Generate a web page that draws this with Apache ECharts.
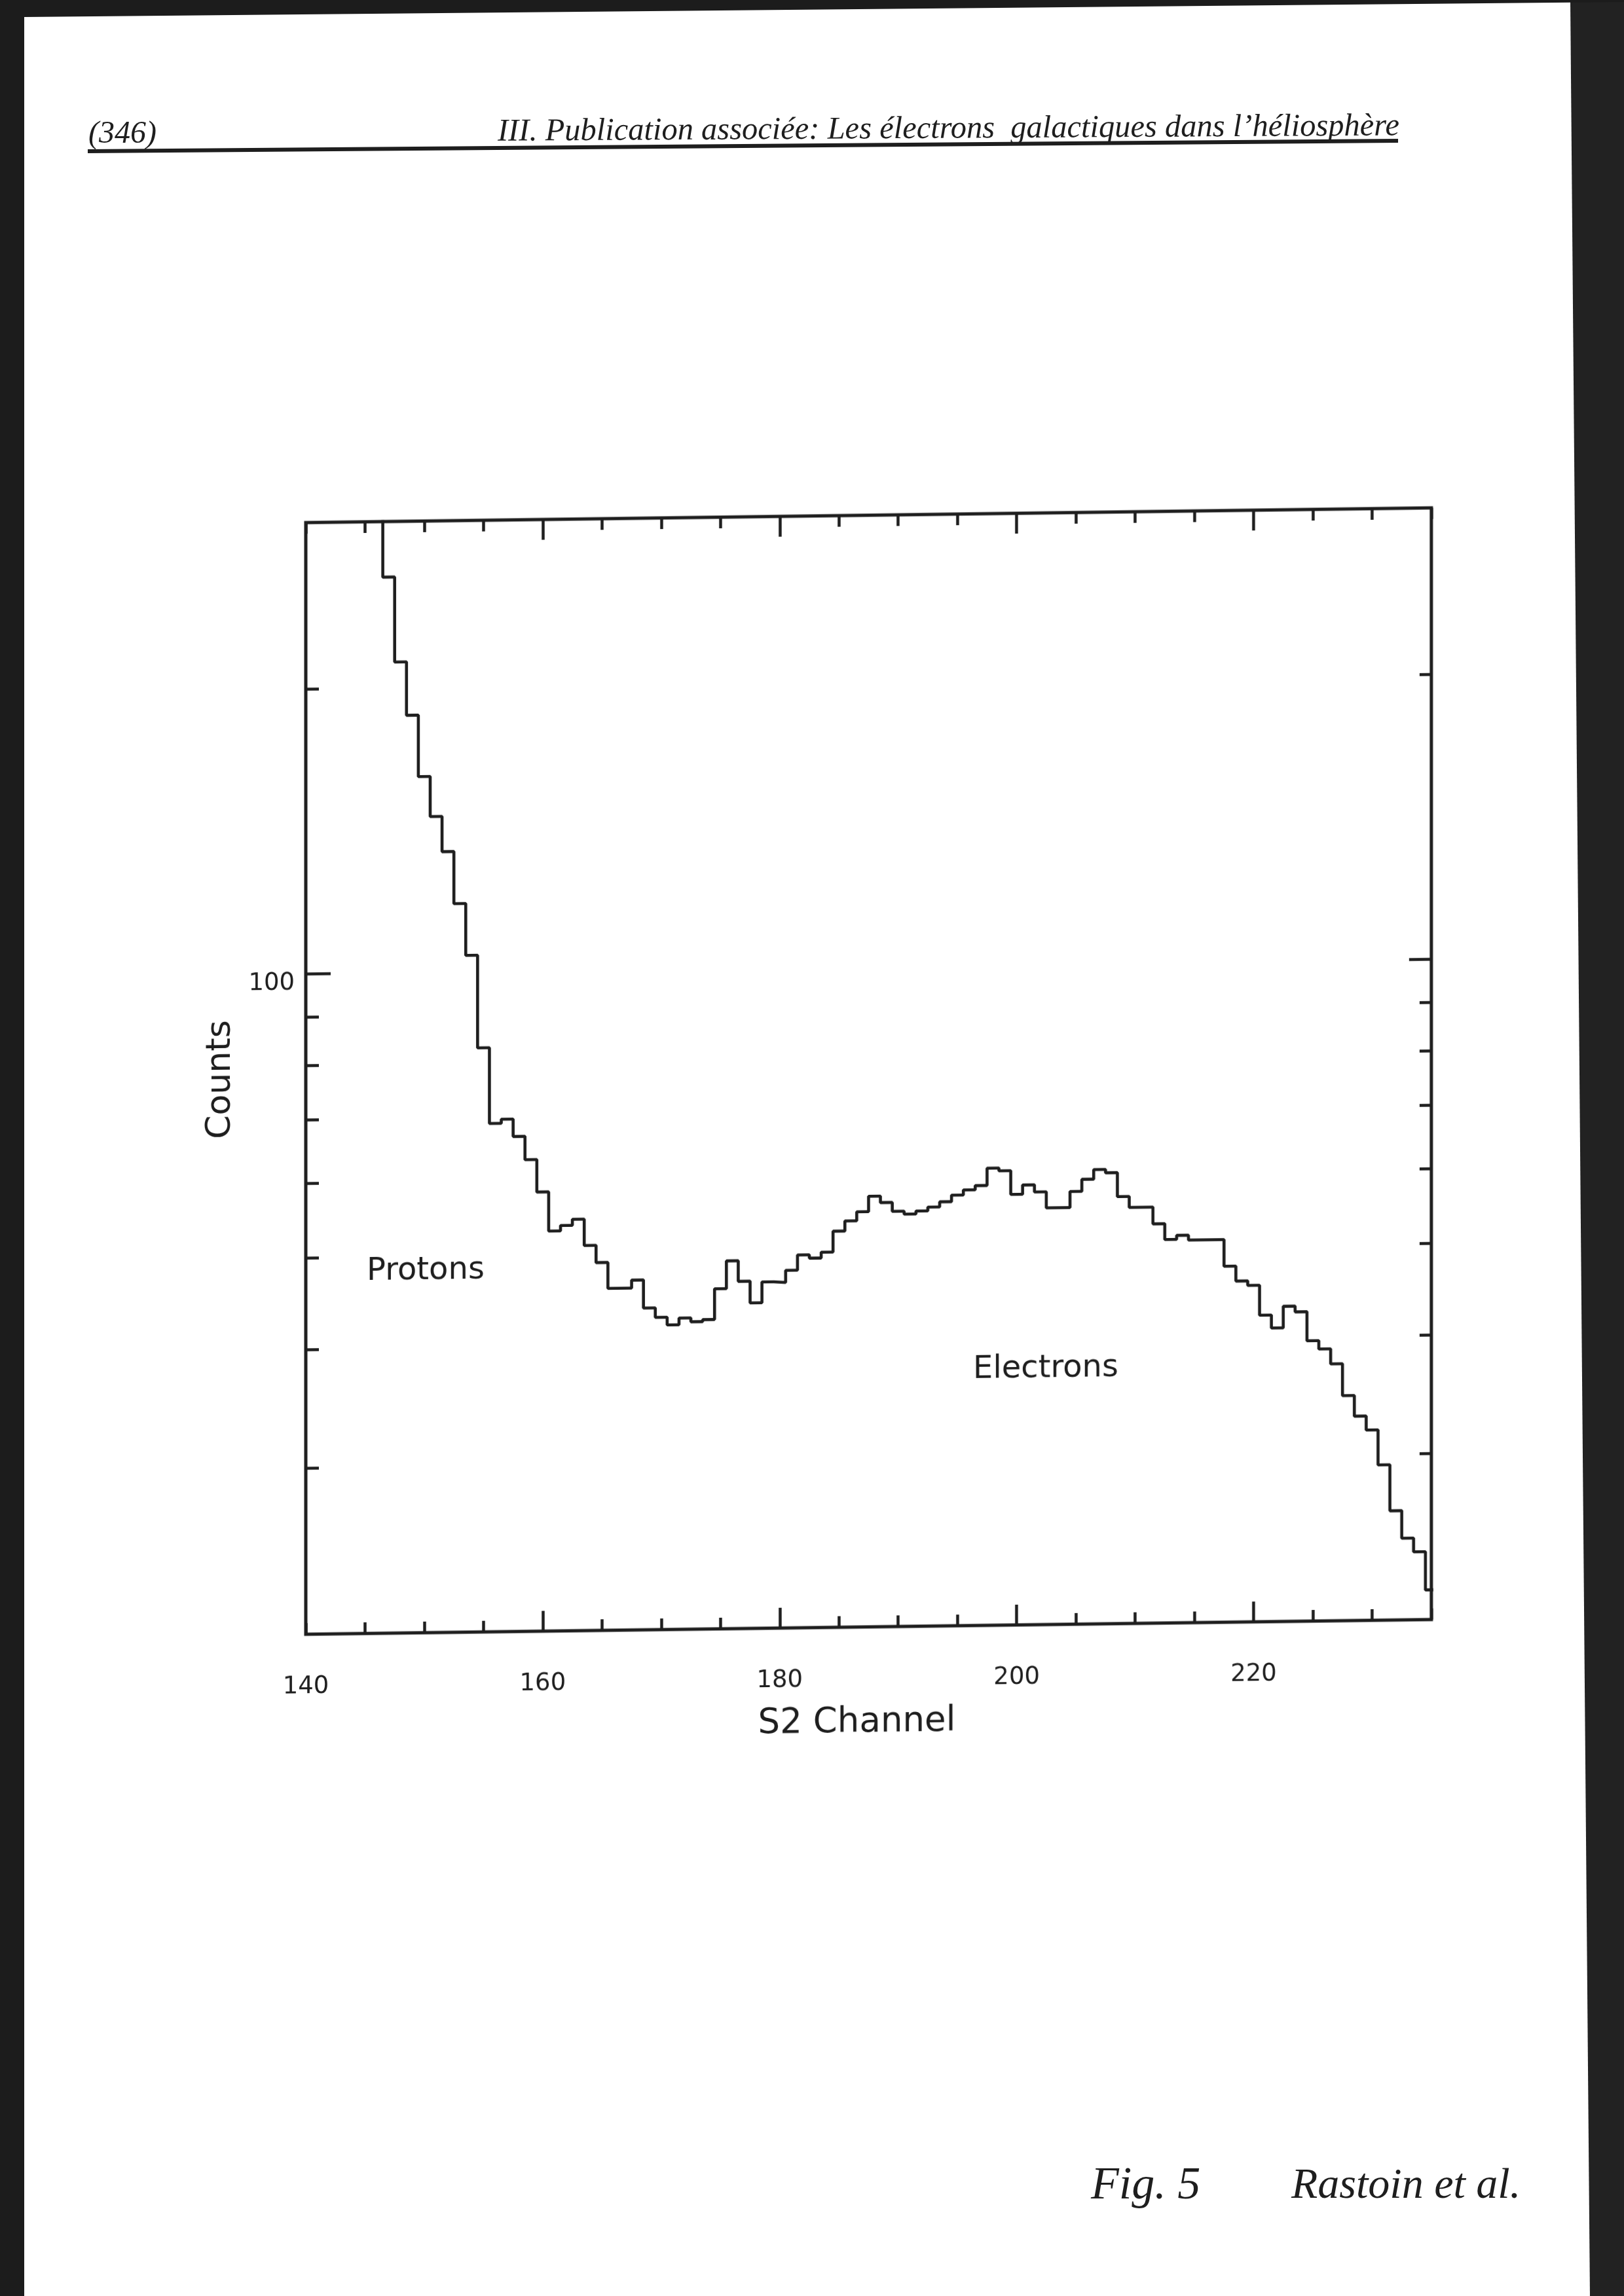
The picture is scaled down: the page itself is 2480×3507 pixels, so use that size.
<!DOCTYPE html>
<html>
<head>
<meta charset="utf-8">
<script src="https://cdn.jsdelivr.net/npm/echarts@6/dist/echarts.min.js"></script>
<style>
html,body{margin:0;padding:0;background:#ffffff;}
#page{position:absolute;left:0;top:0;width:2480px;height:3507px;}
#chart{position:absolute;left:0;top:0;width:2480px;height:3507px;transform:skewY(-0.75deg);transform-origin:1326px 1636px;}
</style>
</head>
<body>
<div id="page"></div>
<div id="chart"></div>
<script>
// ---- data ----
const channels = [146,147,148,149,150,151,152,153,154,155,156,157,158,159,160,161,162,163,164,165,
  166,167,168,169,170,171,172,173,174,175,176,177,178,179,180,181,182,183,184,185,
  186,187,188,189,190,191,192,193,194,195,196,197,198,199,200,201,202,203,204,205,
  206,207,208,209,210,211,212,213,214,215,216,217,218,219,220,221,222,223,224,225,
  226,227,228,229,230,231,232,233,234,235];
const counts = [330,262,213,187,161,146,134,118,104,83,69.0,69.7,66.8,63.1,58.3,53.0,53.7,54.5,51.1,49.0,
  46.0,46.0,46.9,43.8,42.8,42.0,42.7,42.3,42.5,45.8,49.0,46.6,44.2,46.5,46.4,47.8,49.6,49.2,49.9,52.5,
  53.8,55.0,57.1,56.2,55.0,54.6,55.0,55.5,56.2,57.1,57.8,58.4,60.9,60.5,57.1,58.4,57.4,55.2,55.2,57.4,
  59.1,60.5,60.0,56.6,55.1,55.1,52.9,50.9,51.4,50.8,50.8,50.8,47.6,45.9,45.4,42.2,40.9,43.1,42.5,39.6,
  38.8,37.4,34.6,32.9,31.8,29.2,26.1,24.4,23.6,21.5];
const xMin = 140, xMax = 235, xStep = 5;
const xMajorTicks = [160,180,200,220];
const xLabelValues = [140,160,180,200,220];
const yMin = 20, yMax = 300;
const yMinorTicks = [30,40,50,60,70,80,90,200];
const yMajorTicks = [100];
const yLabelValues = [100];

// ---- build histogram outline (bin edges at channel +/- 0.5) ----
const stepData = channels.map((c, i) => [c - 0.5, counts[i]]);
stepData.push([channels[channels.length - 1] + 0.5, counts[counts.length - 1]]);

const ink = '#1e1e1e';
const plotFont = 'DejaVu Sans';
const tickStyle = {color: ink, width: 4.5};

const baseX = {type: 'value', min: xMin, max: xMax, splitLine: {show: false}, axisLine: {show: false}};
const baseY = {type: 'log', logBase: 10, min: yMin, max: yMax, splitLine: {show: false}, axisLine: {show: false}};

// ---- page (scan borders, running head, handwritten caption) ----
const page = echarts.init(document.getElementById('page'), null, {renderer: 'canvas'});
page.setOption({
  backgroundColor: '#ffffff',
  animation: false,
  graphic: [
    {type: 'rect', shape: {x: 0, y: 0, width: 37, height: 3507}, style: {fill: '#1c1c1c'}, silent: true},
    {type: 'polygon', shape: {points: [[2398, 0], [2480, 0], [2480, 3507], [2428, 3507]]}, style: {fill: '#222222'}, silent: true},
    {type: 'polygon', shape: {points: [[0, 0], [2480, 0], [2480, 3], [37, 26], [0, 26]]}, style: {fill: '#1c1c1c'}, silent: true},
    {type: 'text', x: 135, y: 229, style: {text: '(346)', font: 'italic 48px "Liberation Serif"', fill: ink, textVerticalAlign: 'bottom'}, silent: true},
    {type: 'text', x: 760, y: 226, rotation: 0.006, style: {text: 'III. Publication associée: Les électrons  galactiques dans l\u2019héliosphère', font: 'italic 48.5px "Liberation Serif"', fill: ink, textVerticalAlign: 'bottom'}, silent: true},
    {type: 'line', shape: {x1: 134, y1: 231, x2: 2135, y2: 215}, style: {stroke: ink, lineWidth: 6}, silent: true},
    {type: 'text', x: 1666, y: 3340, style: {text: 'Fig. 5', font: 'italic 70px "Liberation Serif"', fill: ink, textVerticalAlign: 'middle'}, silent: true},
    {type: 'text', x: 1972, y: 3340, style: {text: 'Rastoin et al.', font: 'italic 66px "Liberation Serif"', fill: ink, textVerticalAlign: 'middle'}, silent: true}
  ]
});

// ---- the histogram ----
const chart = echarts.init(document.getElementById('chart'), null, {renderer: 'canvas'});
chart.setOption({
  backgroundColor: 'transparent',
  animation: false,
  grid: {left: 467, top: 787, width: 1719, height: 1698, show: true, borderColor: ink, borderWidth: 5, backgroundColor: 'transparent'},
  xAxis: [
    Object.assign({}, baseX, {position: 'bottom', interval: xStep,
      axisTick: {inside: true, length: 17, lineStyle: tickStyle}, axisLabel: {show: false}}),
    Object.assign({}, baseX, {position: 'bottom',
      axisTick: {inside: true, length: 31, customValues: xMajorTicks, lineStyle: tickStyle},
      axisLabel: {customValues: xLabelValues, margin: 62, fontSize: 37, fontFamily: plotFont, color: ink},
      name: 'S2 Channel', nameLocation: 'middle', nameGap: 120,
      nameTextStyle: {fontSize: 53, fontFamily: plotFont, color: ink, padding: [0, 36, 0, 0]}}),
    Object.assign({}, baseX, {position: 'top', interval: xStep,
      axisTick: {inside: true, length: 17, lineStyle: tickStyle}, axisLabel: {show: false}}),
    Object.assign({}, baseX, {position: 'top',
      axisTick: {inside: true, length: 31, customValues: xMajorTicks, lineStyle: tickStyle}, axisLabel: {show: false}})
  ],
  yAxis: [
    Object.assign({}, baseY, {position: 'left',
      axisTick: {inside: true, length: 20, customValues: yMinorTicks, lineStyle: tickStyle}, axisLabel: {show: false},
      name: 'Counts', nameLocation: 'middle', nameGap: 104, nameRotate: 90,
      nameTextStyle: {fontSize: 52, fontFamily: plotFont, color: ink}}),
    Object.assign({}, baseY, {position: 'left',
      axisTick: {inside: true, length: 38, customValues: yMajorTicks, lineStyle: tickStyle},
      axisLabel: {customValues: yLabelValues, margin: 17, fontSize: 37, fontFamily: plotFont, color: ink, verticalAlign: 'top', lineHeight: 30}}),
    Object.assign({}, baseY, {position: 'right',
      axisTick: {inside: true, length: 18, customValues: yMinorTicks, lineStyle: tickStyle}, axisLabel: {show: false}}),
    Object.assign({}, baseY, {position: 'right',
      axisTick: {inside: true, length: 34, customValues: yMajorTicks, lineStyle: tickStyle}, axisLabel: {show: false}})
  ],
  series: [{
    type: 'line', xAxisIndex: 0, yAxisIndex: 0, step: 'end', showSymbol: false, symbol: 'none',
    clip: true, silent: true,
    lineStyle: {color: ink, width: 4.6},
    data: stepData
  }],
  graphic: [
    {type: 'text', x: 650, y: 1933, style: {text: 'Protons', font: '48px "DejaVu Sans"', fill: ink, textAlign: 'center', textVerticalAlign: 'middle'}, silent: true},
    {type: 'text', x: 1597, y: 2095, style: {text: 'Electrons', font: '48px "DejaVu Sans"', fill: ink, textAlign: 'center', textVerticalAlign: 'middle'}, silent: true}
  ]
});
</script>
</body>
</html>
